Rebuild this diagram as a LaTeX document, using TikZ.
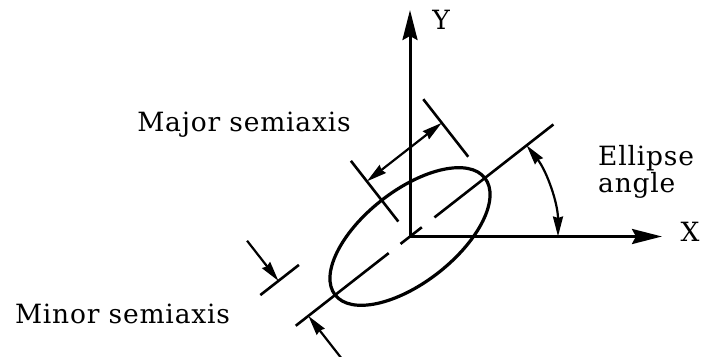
\documentclass[tikz,border=0pt]{standalone}
\usepackage{fontspec}
\setmainfont[LetterSpace=3]{DejaVu Serif}
\usetikzlibrary{arrows.meta}

\begin{document}
\begin{tikzpicture}[x=1pt,y=1pt,>={Stealth[length=20pt,width=10pt,inset=1.5pt]},
  axis/.style={line width=3pt,-{Stealth[length=30pt,width=15pt,inset=4pt]}},
  dim/.style={line width=2.2pt},
  extline/.style={line width=2.6pt},
  lbl/.style={font=\fontsize{26.5}{27}\selectfont,inner sep=0pt}]
\useasboundingbox (0,0) rectangle (701,356);
\coordinate (O) at (410,119.5);
\coordinate (Xtip) at (662,119.5);
\coordinate (Ytip) at (410,346);
\draw[axis] (O) -- (Xtip);
\draw[axis] (O) -- (Ytip);
\node[lbl,anchor=base] (X) at (690,114.3) {X};
\node[lbl,anchor=base] (Y) at (441,326) {Y};
\begin{scope}[shift={(O)},rotate=38]
\draw[line width=3.2pt] (0,0) ellipse[x radius=95,y radius=46];
\coordinate (Mlo) at (-145,0);
\coordinate (Mhi) at (182,0);
\draw[extline,dash pattern=on 118pt off 15pt on 27pt off 16pt on 200pt] (Mlo) -- (Mhi);
\draw[extline] (0,19) -- (0,96);
\draw[extline] (95,27) -- (95,100);
\coordinate (majA) at (0,70);
\coordinate (majB) at (95,70);
\draw[dim,<->] (majA) -- (majB);
\draw[extline] (-154,46) -- (-105,46);
\coordinate (minA) at (-131,97);
\coordinate (minB) at (-131,46);
\draw[dim,->] (minA) -- (minB);
\coordinate (minC) at (-129,-60);
\coordinate (minD) at (-129,0);
\draw[dim,->] (minC) -- (minD);
\end{scope}
\coordinate (arcstart) at (558,119.5);
\draw[dim,<->] (arcstart) arc[start angle=0,end angle=38,radius=148];
\node[lbl,anchor=base] (major) at (244,224.3) {Major semiaxis};
\node[lbl,anchor=base] (minor) at (122.5,32.7) {Minor semiaxis};
\node[lbl,align=left,anchor=north west] (angle) at (598,211) {Ellipse\\angle};
\end{tikzpicture}
\end{document}
